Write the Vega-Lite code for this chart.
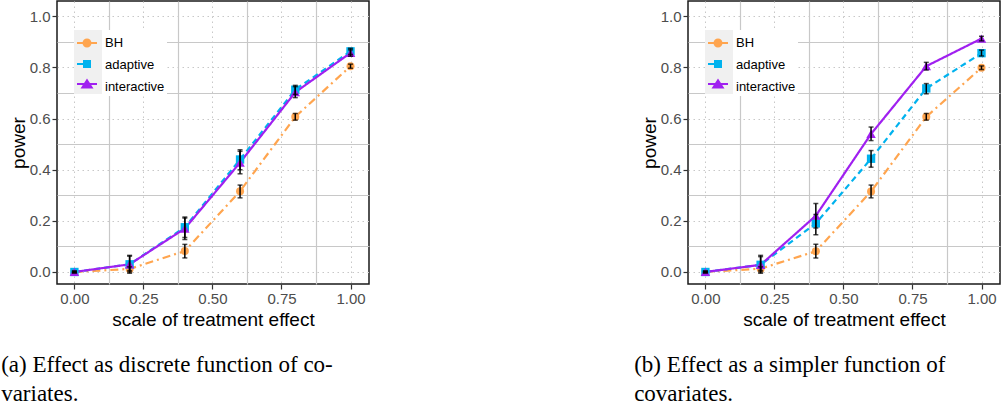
{
  "$schema": "https://vega.github.io/schema/vega-lite/v6.json",
  "background": "white",
  "padding": {"left": 0, "top": 0, "right": 0, "bottom": 0},
  "config": {
    "font": "Liberation Sans",
    "view": {"stroke": "#1a1a1a", "strokeWidth": 1.5},
    "axis": {"labelFont": "Liberation Sans", "labelFontSize": 15, "labelColor": "#4D4D4D", "labelPadding": 2, "tickColor": "#333333", "tickSize": 5, "tickWidth": 1.2, "domain": false, "titleFont": "Liberation Sans", "titleFontSize": 19, "titleFontWeight": "normal", "titleColor": "#000000", "gridColor": "#C8C8C8"},
    "legend": {"labelFont": "Liberation Sans", "labelFontSize": 13, "labelColor": "#000000"}
  },
  "data": {"values": [
    {"panel": "a", "method": "BH", "x": 0, "power": 0, "lo": -0.003, "hi": 0.003},
    {"panel": "a", "method": "BH", "x": 0.2, "power": 0.012, "lo": 0.005, "hi": 0.02},
    {"panel": "a", "method": "BH", "x": 0.4, "power": 0.082, "lo": 0.055, "hi": 0.108},
    {"panel": "a", "method": "BH", "x": 0.6, "power": 0.316, "lo": 0.29, "hi": 0.34},
    {"panel": "a", "method": "BH", "x": 0.8, "power": 0.607, "lo": 0.594, "hi": 0.62},
    {"panel": "a", "method": "BH", "x": 1.0, "power": 0.805, "lo": 0.797, "hi": 0.813},
    {"panel": "a", "method": "adaptive", "x": 0, "power": 0, "lo": -0.003, "hi": 0.003},
    {"panel": "a", "method": "adaptive", "x": 0.2, "power": 0.03, "lo": 0.0, "hi": 0.062},
    {"panel": "a", "method": "adaptive", "x": 0.4, "power": 0.175, "lo": 0.135, "hi": 0.215},
    {"panel": "a", "method": "adaptive", "x": 0.6, "power": 0.44, "lo": 0.4, "hi": 0.478},
    {"panel": "a", "method": "adaptive", "x": 0.8, "power": 0.713, "lo": 0.695, "hi": 0.73},
    {"panel": "a", "method": "adaptive", "x": 1.0, "power": 0.863, "lo": 0.851, "hi": 0.875},
    {"panel": "a", "method": "interactive", "x": 0, "power": 0, "lo": -0.003, "hi": 0.003},
    {"panel": "a", "method": "interactive", "x": 0.2, "power": 0.03, "lo": -0.005, "hi": 0.065},
    {"panel": "a", "method": "interactive", "x": 0.4, "power": 0.17, "lo": 0.127, "hi": 0.211},
    {"panel": "a", "method": "interactive", "x": 0.6, "power": 0.428, "lo": 0.384, "hi": 0.472},
    {"panel": "a", "method": "interactive", "x": 0.8, "power": 0.703, "lo": 0.682, "hi": 0.725},
    {"panel": "a", "method": "interactive", "x": 1.0, "power": 0.857, "lo": 0.844, "hi": 0.869},
    {"panel": "b", "method": "BH", "x": 0, "power": 0, "lo": -0.003, "hi": 0.003},
    {"panel": "b", "method": "BH", "x": 0.2, "power": 0.013, "lo": 0.006, "hi": 0.02},
    {"panel": "b", "method": "BH", "x": 0.4, "power": 0.081, "lo": 0.055, "hi": 0.108},
    {"panel": "b", "method": "BH", "x": 0.6, "power": 0.315, "lo": 0.29, "hi": 0.34},
    {"panel": "b", "method": "BH", "x": 0.8, "power": 0.607, "lo": 0.594, "hi": 0.62},
    {"panel": "b", "method": "BH", "x": 1.0, "power": 0.799, "lo": 0.792, "hi": 0.806},
    {"panel": "b", "method": "adaptive", "x": 0, "power": 0, "lo": -0.003, "hi": 0.003},
    {"panel": "b", "method": "adaptive", "x": 0.2, "power": 0.028, "lo": 0.0, "hi": 0.06},
    {"panel": "b", "method": "adaptive", "x": 0.4, "power": 0.19, "lo": 0.146, "hi": 0.225},
    {"panel": "b", "method": "adaptive", "x": 0.6, "power": 0.443, "lo": 0.41, "hi": 0.475},
    {"panel": "b", "method": "adaptive", "x": 0.8, "power": 0.718, "lo": 0.697, "hi": 0.737},
    {"panel": "b", "method": "adaptive", "x": 1.0, "power": 0.856, "lo": 0.845, "hi": 0.868},
    {"panel": "b", "method": "interactive", "x": 0, "power": 0, "lo": -0.003, "hi": 0.003},
    {"panel": "b", "method": "interactive", "x": 0.2, "power": 0.028, "lo": -0.005, "hi": 0.065},
    {"panel": "b", "method": "interactive", "x": 0.4, "power": 0.22, "lo": 0.172, "hi": 0.268},
    {"panel": "b", "method": "interactive", "x": 0.6, "power": 0.54, "lo": 0.514, "hi": 0.567},
    {"panel": "b", "method": "interactive", "x": 0.8, "power": 0.805, "lo": 0.79, "hi": 0.82},
    {"panel": "b", "method": "interactive", "x": 1.0, "power": 0.913, "lo": 0.904, "hi": 0.922}
  ]},
  "spacing": 263,
  "resolve": {"scale": {"color": "independent", "shape": "independent", "stroke": "independent", "strokeDash": "independent"}, "legend": {"color": "independent", "shape": "independent", "stroke": "independent", "strokeDash": "independent"}},
  "hconcat": [
    {
      "width": 312, "height": 283,
      "title": {"text": ["(a) Effect as discrete function of co-", "variates."], "orient": "bottom", "anchor": "start", "frame": "bounds", "font": "Liberation Serif", "fontSize": 23, "fontWeight": "normal", "color": "#000000", "lineHeight": 29, "offset": 25, "dx": -8},
      "transform": [{"filter": "datum.panel == 'a'"}],
      "layer": [
        {"mark": {"type": "line", "strokeWidth": 2.2},
         "encoding": {
           "x": {"field": "x", "type": "quantitative", "scale": {"domain": [-0.063, 1.067], "nice": false, "zero": false}, "axis": {"values": [0, 0.25, 0.5, 0.75, 1], "format": ".2f", "title": "scale of treatment effect", "gridDash": [1.5, 3.5], "titlePadding": 4}},
           "y": {"field": "power", "type": "quantitative", "scale": {"domain": [-0.047, 1.06], "nice": false, "zero": false}, "axis": {"values": [0, 0.2, 0.4, 0.6, 0.8, 1.0], "format": ".1f", "title": "power", "gridDash": [1.5, 3.5], "titlePadding": 1}},
           "stroke": {"field": "method", "type": "nominal", "scale": {"range": ["#FFA54F", "#00B2EE", "#A020F0"]}, "legend": {"orient": "none", "legendX": 17, "legendY": 29, "zindex": 1, "title": null, "fillColor": "white", "padding": 2, "symbolSize": 400, "rowPadding": 4, "labelOffset": 7, "symbolOpacity": 0}},
           "strokeDash": {"field": "method", "type": "nominal", "scale": {"range": [[8, 4, 2, 4], [6, 4], [1, 0]]}, "legend": {"orient": "none", "legendX": 17, "legendY": 29, "zindex": 1, "title": null, "fillColor": "white", "padding": 2, "symbolSize": 400, "rowPadding": 4, "labelOffset": 7, "symbolOpacity": 0}}
         }},
        {"transform": [{"filter": "datum.method == 'BH'"}],
         "mark": {"type": "point", "shape": "circle", "filled": true, "size": 64, "opacity": 1, "color": "#FFA54F"},
         "encoding": {
           "x": {"field": "x", "type": "quantitative", "axis": {"orient": "top", "values": [0.125, 0.375, 0.625, 0.875], "labels": false, "ticks": false, "domain": false, "title": null, "grid": true, "gridWidth": 1.2}},
           "y": {"field": "power", "type": "quantitative", "axis": {"orient": "right", "values": [0.1, 0.3, 0.5, 0.7, 0.9], "labels": false, "ticks": false, "domain": false, "title": null, "grid": true, "gridWidth": 1.2}}
         }},
        {"transform": [{"filter": "datum.method == 'adaptive'"}],
         "mark": {"type": "point", "shape": "square", "filled": true, "size": 70, "opacity": 1, "color": "#00B2EE"},
         "encoding": {
           "x": {"field": "x", "type": "quantitative", "axis": null},
           "y": {"field": "power", "type": "quantitative", "axis": null}
         }},
        {"transform": [{"filter": "datum.method == 'interactive'"}],
         "mark": {"type": "point", "shape": "triangle-up", "filled": true, "size": 90, "opacity": 1, "color": "#A020F0"},
         "encoding": {
           "x": {"field": "x", "type": "quantitative", "axis": null},
           "y": {"field": "power", "type": "quantitative", "axis": null}
         }},
        {"mark": {"type": "errorbar", "color": "#000000", "thickness": 1.5, "ticks": {"size": 5, "thickness": 1.5, "color": "#000000"}},
         "encoding": {
           "x": {"field": "x", "type": "quantitative", "axis": null},
           "y": {"field": "lo", "type": "quantitative", "axis": null},
           "y2": {"field": "hi"}
         }},
        {"transform": [{"filter": "datum.x > 5"}],
         "mark": {"type": "point", "filled": true, "size": 400, "opacity": 1},
         "encoding": {
           "x": {"field": "x", "type": "quantitative", "axis": null},
           "y": {"field": "power", "type": "quantitative", "axis": null},
           "color": {"field": "method", "type": "nominal", "scale": {"domain": ["BH", "adaptive", "interactive"], "range": ["#FFA54F", "#00B2EE", "#A020F0"]}, "legend": {"orient": "none", "legendX": 17, "legendY": 29, "zindex": 2, "title": null, "fillColor": "#F0F0F0", "padding": 2, "symbolSize": 400, "symbolOpacity": 1, "rowPadding": 2, "labelOffset": 0, "labelExpr": "''"}},
           "shape": {"field": "method", "type": "nominal", "scale": {"domain": ["BH", "adaptive", "interactive"], "range": ["M-1,-0.1H1V0.1H-1Z M0.45,0A0.45,0.45,0,1,1,-0.45,0A0.45,0.45,0,1,1,0.45,0Z", "M-1,-0.1H-0.2V0.1H-1Z M-0.4,-0.4H0.4V0.4H-0.4Z", "M-1,-0.1H1V0.1H-1Z M0,-0.55L0.65,0.45H-0.65Z"]}, "legend": {"orient": "none", "legendX": 17, "legendY": 29, "zindex": 2, "title": null, "fillColor": "#F0F0F0", "padding": 2, "symbolSize": 400, "symbolOpacity": 1, "rowPadding": 2, "labelOffset": 0, "labelExpr": "''"}}
         }}
      ],
      "resolve": {"axis": {"x": "independent", "y": "independent"}}
    },
    {
      "width": 312, "height": 283,
      "title": {"text": ["(b) Effect as a simpler function of", "covariates."], "orient": "bottom", "anchor": "start", "frame": "bounds", "font": "Liberation Serif", "fontSize": 23, "fontWeight": "normal", "color": "#000000", "lineHeight": 29, "offset": 25, "dx": -6},
      "transform": [{"filter": "datum.panel == 'b'"}],
      "layer": [
        {"mark": {"type": "line", "strokeWidth": 2.2},
         "encoding": {
           "x": {"field": "x", "type": "quantitative", "scale": {"domain": [-0.063, 1.067], "nice": false, "zero": false}, "axis": {"values": [0, 0.25, 0.5, 0.75, 1], "format": ".2f", "title": "scale of treatment effect", "gridDash": [1.5, 3.5], "titlePadding": 4}},
           "y": {"field": "power", "type": "quantitative", "scale": {"domain": [-0.047, 1.06], "nice": false, "zero": false}, "axis": {"values": [0, 0.2, 0.4, 0.6, 0.8, 1.0], "format": ".1f", "title": "power", "gridDash": [1.5, 3.5], "titlePadding": 1}},
           "stroke": {"field": "method", "type": "nominal", "scale": {"range": ["#FFA54F", "#00B2EE", "#A020F0"]}, "legend": {"orient": "none", "legendX": 17, "legendY": 29, "zindex": 1, "title": null, "fillColor": "white", "padding": 2, "symbolSize": 400, "rowPadding": 4, "labelOffset": 7, "symbolOpacity": 0}},
           "strokeDash": {"field": "method", "type": "nominal", "scale": {"range": [[8, 4, 2, 4], [6, 4], [1, 0]]}, "legend": {"orient": "none", "legendX": 17, "legendY": 29, "zindex": 1, "title": null, "fillColor": "white", "padding": 2, "symbolSize": 400, "rowPadding": 4, "labelOffset": 7, "symbolOpacity": 0}}
         }},
        {"transform": [{"filter": "datum.method == 'BH'"}],
         "mark": {"type": "point", "shape": "circle", "filled": true, "size": 64, "opacity": 1, "color": "#FFA54F"},
         "encoding": {
           "x": {"field": "x", "type": "quantitative", "axis": {"orient": "top", "values": [0.125, 0.375, 0.625, 0.875], "labels": false, "ticks": false, "domain": false, "title": null, "grid": true, "gridWidth": 1.2}},
           "y": {"field": "power", "type": "quantitative", "axis": {"orient": "right", "values": [0.1, 0.3, 0.5, 0.7, 0.9], "labels": false, "ticks": false, "domain": false, "title": null, "grid": true, "gridWidth": 1.2}}
         }},
        {"transform": [{"filter": "datum.method == 'adaptive'"}],
         "mark": {"type": "point", "shape": "square", "filled": true, "size": 70, "opacity": 1, "color": "#00B2EE"},
         "encoding": {
           "x": {"field": "x", "type": "quantitative", "axis": null},
           "y": {"field": "power", "type": "quantitative", "axis": null}
         }},
        {"transform": [{"filter": "datum.method == 'interactive'"}],
         "mark": {"type": "point", "shape": "triangle-up", "filled": true, "size": 90, "opacity": 1, "color": "#A020F0"},
         "encoding": {
           "x": {"field": "x", "type": "quantitative", "axis": null},
           "y": {"field": "power", "type": "quantitative", "axis": null}
         }},
        {"mark": {"type": "errorbar", "color": "#000000", "thickness": 1.5, "ticks": {"size": 5, "thickness": 1.5, "color": "#000000"}},
         "encoding": {
           "x": {"field": "x", "type": "quantitative", "axis": null},
           "y": {"field": "lo", "type": "quantitative", "axis": null},
           "y2": {"field": "hi"}
         }},
        {"transform": [{"filter": "datum.x > 5"}],
         "mark": {"type": "point", "filled": true, "size": 400, "opacity": 1},
         "encoding": {
           "x": {"field": "x", "type": "quantitative", "axis": null},
           "y": {"field": "power", "type": "quantitative", "axis": null},
           "color": {"field": "method", "type": "nominal", "scale": {"domain": ["BH", "adaptive", "interactive"], "range": ["#FFA54F", "#00B2EE", "#A020F0"]}, "legend": {"orient": "none", "legendX": 17, "legendY": 29, "zindex": 2, "title": null, "fillColor": "#F0F0F0", "padding": 2, "symbolSize": 400, "symbolOpacity": 1, "rowPadding": 2, "labelOffset": 0, "labelExpr": "''"}},
           "shape": {"field": "method", "type": "nominal", "scale": {"domain": ["BH", "adaptive", "interactive"], "range": ["M-1,-0.1H1V0.1H-1Z M0.45,0A0.45,0.45,0,1,1,-0.45,0A0.45,0.45,0,1,1,0.45,0Z", "M-1,-0.1H-0.2V0.1H-1Z M-0.4,-0.4H0.4V0.4H-0.4Z", "M-1,-0.1H1V0.1H-1Z M0,-0.55L0.65,0.45H-0.65Z"]}, "legend": {"orient": "none", "legendX": 17, "legendY": 29, "zindex": 2, "title": null, "fillColor": "#F0F0F0", "padding": 2, "symbolSize": 400, "symbolOpacity": 1, "rowPadding": 2, "labelOffset": 0, "labelExpr": "''"}}
         }}
      ],
      "resolve": {"axis": {"x": "independent", "y": "independent"}}
    }
  ]
}
